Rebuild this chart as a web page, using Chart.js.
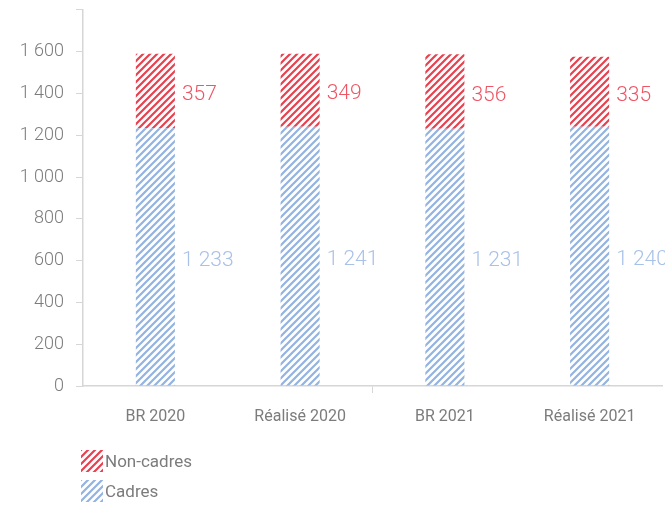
<!DOCTYPE html>
<html lang="fr">
<head>
    <meta charset="UTF-8">
    <title>Cadres / Non-cadres</title>
    <script src="https://cdn.jsdelivr.net/npm/chart.js"></script>
    <style>
        body {
            margin: 0;
            padding: 0;
            background-color: #fff;
            font-family: Roboto, Arial, sans-serif;
            overflow: hidden;
        }
        .wrap {
            position: relative;
            width: 665px;
            height: 505px;
            overflow: hidden;
        }
        .chart-box {
            position: absolute;
            left: 0;
            top: -13px;
            width: 665px;
            height: 445px;
        }
        .legend {
            position: absolute;
            left: 81px;
            top: 446px;
        }
        .legend-item {
            display: flex;
            align-items: center;
            height: 30px;
            font-size: 17px;
            color: #7c7c7c;
        }
        .legend-item canvas {
            width: 22px;
            height: 22px;
            margin-right: 2px;
        }
    </style>
</head>
<body>
    <div class="wrap">
        <div class="chart-box">
            <canvas id="staffChart"></canvas>
        </div>
        <div class="legend" id="legend"></div>
    </div>

    <script>
        const categories = ['BR 2020', 'Réalisé 2020', 'BR 2021', 'Réalisé 2021'];
        const cadres = [1233, 1241, 1231, 1240];
        const nonCadres = [357, 349, 356, 335];

        const redStripe = '#e8404f';
        const blueStripe = '#93b3e2';
        const redLabel = '#ee5665';
        const blueLabel = '#a8c1e8';
        const gray = '#7c7c7c';

        // diagonal stripe pattern "/"
        function stripes(color) {
            const size = 7;
            const c = document.createElement('canvas');
            c.width = size;
            c.height = size;
            const g = c.getContext('2d');
            g.strokeStyle = color;
            g.lineWidth = 2.2;
            g.beginPath();
            g.moveTo(-1, size + 1);
            g.lineTo(size + 1, -1);
            g.moveTo(-2, 2);
            g.lineTo(2, -2);
            g.moveTo(size - 2, size + 2);
            g.lineTo(size + 2, size - 2);
            g.stroke();
            return g.createPattern(c, 'repeat');
        }

        const fmt = v => v.toLocaleString('fr-FR').replace(/\s/g, ' ');

        const barLabels = {
            id: 'barLabels',
            afterDatasetsDraw(chart) {
                const ctx = chart.ctx;
                ctx.save();
                ctx.font = '300 21px Roboto';
                ctx.textAlign = 'left';
                ctx.textBaseline = 'middle';
                chart.data.datasets.forEach((ds, i) => {
                    chart.getDatasetMeta(i).data.forEach((bar, j) => {
                        const y = (bar.y + bar.base) / 2;
                        ctx.fillStyle = ds.labelColor;
                        ctx.fillText(fmt(ds.data[j]), bar.x + bar.width / 2 + 7, y + 4);
                    });
                });
                ctx.restore();
            }
        };

        const ctx = document.getElementById('staffChart').getContext('2d');
        const chart = new Chart(ctx, {
            type: 'bar',
            data: {
                labels: categories,
                datasets: [{
                    label: 'Cadres',
                    data: cadres,
                    backgroundColor: stripes(blueStripe),
                    labelColor: blueLabel,
                    legendColor: blueStripe,
                    barPercentage: 0.27,
                    categoryPercentage: 1
                }, {
                    label: 'Non-cadres',
                    data: nonCadres,
                    backgroundColor: stripes(redStripe),
                    labelColor: redLabel,
                    legendColor: redStripe,
                    barPercentage: 0.27,
                    categoryPercentage: 1
                }]
            },
            options: {
                responsive: true,
                maintainAspectRatio: false,
                animation: false,
                layout: { padding: { top: 0, right: 3, left: 0, bottom: 0 } },
                plugins: {
                    legend: { display: false },
                    tooltip: { enabled: false }
                },
                scales: {
                    x: {
                        stacked: true,
                        border: { color: '#d6d6d6', width: 1.5 },
                        grid: {
                            drawOnChartArea: false,
                            tickLength: 7,
                            color: c => c.index === 2 ? '#d6d6d6' : 'rgba(0,0,0,0)'
                        },
                        ticks: {
                            color: gray,
                            padding: 14,
                            font: { family: 'Roboto', size: 16, weight: 400 }
                        },
                        afterFit: s => { s.height = 46; }
                    },
                    y: {
                        stacked: true,
                        min: 0,
                        max: 1800,
                        border: { color: '#d6d6d6', width: 1.5 },
                        grid: {
                            drawOnChartArea: false,
                            tickLength: 7,
                            color: '#d6d6d6'
                        },
                        ticks: {
                            stepSize: 200,
                            color: gray,
                            padding: 12,
                            font: { family: 'Roboto', size: 18, weight: 300 },
                            callback: v => v >= 1800 ? '' : fmt(v)
                        },
                        afterFit: s => { s.width = 83; }
                    }
                }
            },
            plugins: [barLabels]
        });

        // legend, top series first
        const legend = document.getElementById('legend');
        chart.data.datasets.slice().reverse().forEach(ds => {
            const item = document.createElement('div');
            item.className = 'legend-item';
            const sw = document.createElement('canvas');
            sw.width = 22;
            sw.height = 22;
            const g = sw.getContext('2d');
            g.fillStyle = stripes(ds.legendColor);
            g.fillRect(0, 0, 22, 22);
            item.appendChild(sw);
            const t = document.createElement('span');
            t.textContent = ds.label;
            item.appendChild(t);
            legend.appendChild(item);
        });
    </script>
</body>
</html>
